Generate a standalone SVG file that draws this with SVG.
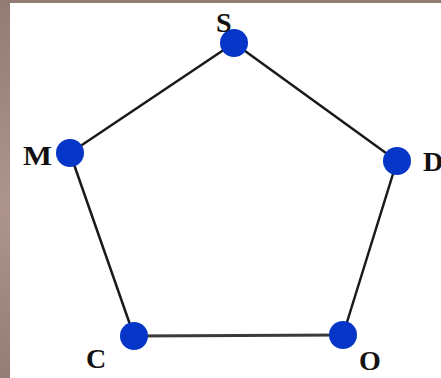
<svg xmlns="http://www.w3.org/2000/svg" width="441" height="378" viewBox="0 0 441 378">
<defs>
<linearGradient id="bg" x1="0" y1="0" x2="0" y2="1">
<stop offset="0" stop-color="#937c74"/>
<stop offset="0.55" stop-color="#ad958c"/>
<stop offset="1" stop-color="#947d75"/>
</linearGradient>
<style>
.edge{stroke:#1a1a1a;stroke-width:2.5;fill:none;stroke-linecap:round}
.node{fill:#0636c8}
.lbl{font-family:"Liberation Serif","Times New Roman",serif;font-weight:bold;font-size:28px;fill:#111}
</style>
</defs>
<rect x="0" y="0" width="441" height="378" fill="url(#bg)"/>
<rect x="10" y="3" width="431" height="375" fill="#ffffff"/>
<g id="connectors">
<line class="edge" x1="234" y1="43" x2="70" y2="153"/>
<line class="edge" x1="234" y1="43" x2="397" y2="161"/>
<line class="edge" x1="397" y1="161" x2="343" y2="335"/>
<line class="edge" x1="343" y1="335" x2="134" y2="336" style="stroke:#3a3a3a;stroke-width:3"/>
<line class="edge" x1="134" y1="336" x2="70" y2="153"/>
</g>
<g id="node-S"><circle class="node" cx="234" cy="43" r="14"/><text class="lbl" x="216" y="32">S</text></g>
<g id="node-M"><circle class="node" cx="70" cy="153" r="14"/><text class="lbl" x="23" y="165" textLength="29" lengthAdjust="spacingAndGlyphs">M</text></g>
<g id="node-D"><circle class="node" cx="397" cy="161" r="14"/><text class="lbl" x="423" y="171">D</text></g>
<g id="node-C"><circle class="node" cx="134" cy="336" r="14"/><text class="lbl" x="86" y="368">C</text></g>
<g id="node-O"><circle class="node" cx="343" cy="335" r="14"/><text class="lbl" x="359" y="370">O</text></g>
</svg>
